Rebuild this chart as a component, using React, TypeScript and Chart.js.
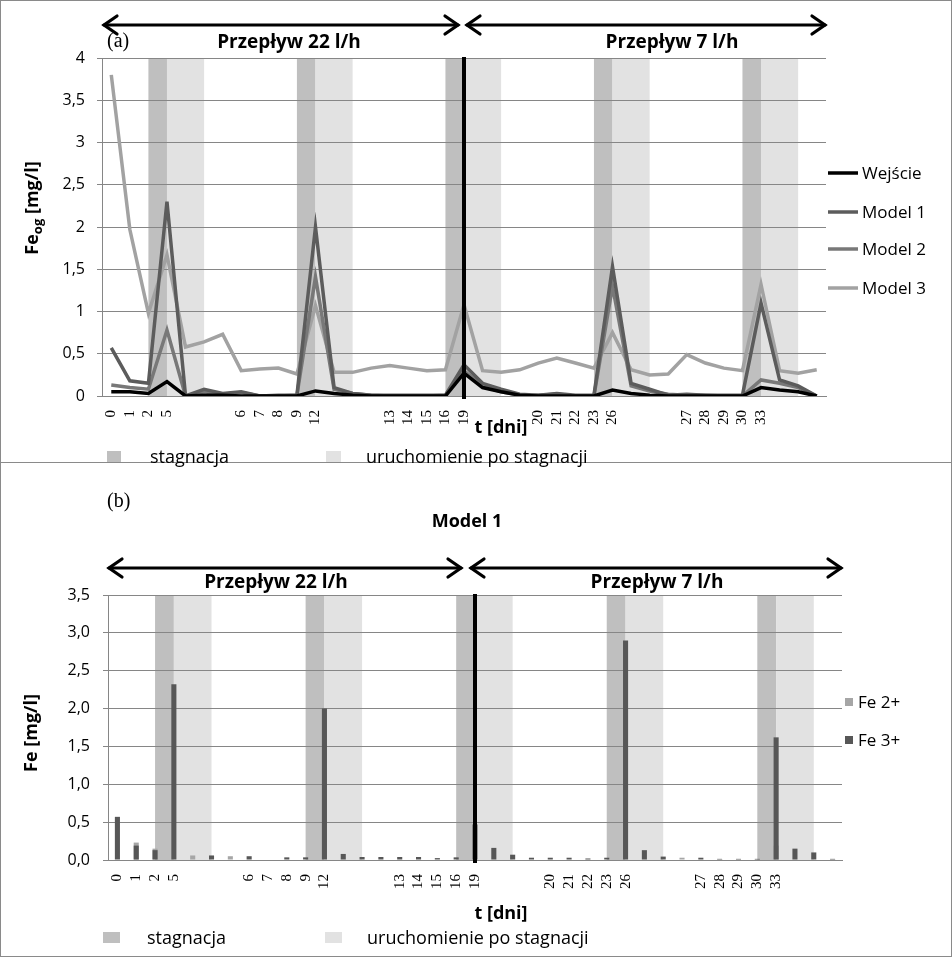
import React, { useEffect, useRef } from "react";
import { Chart, registerables } from "chart.js";

Chart.register(...registerables);

// ---------- data ----------
const dayLabels = [
  "0", "1", "2", "5", "", "", "", "6", "7", "8", "9", "12", "", "", "",
  "13", "14", "15", "16", "19", "", "", "", "20", "21", "22", "23", "26", "", "", "",
  "27", "28", "29", "30", "33", "", "", "",
];

const wejscie = [
  0.05, 0.05, 0.03, 0.17, 0.0, 0.01, 0.01, 0.0, 0.0, 0.0, 0.0, 0.06, 0.03, 0.01, 0.0,
  0.0, 0.0, 0.0, 0.0, 0.27, 0.1, 0.05, 0.01, 0.0, 0.0, 0.0, 0.0, 0.07, 0.03, 0.01, 0.0,
  0.0, 0.0, 0.0, 0.0, 0.1, 0.07, 0.05, 0.0,
];
const model1 = [
  0.57, 0.18, 0.15, 2.3, 0.0, 0.08, 0.03, 0.05, 0.0, 0.01, 0.01, 2.0, 0.1, 0.03, 0.01,
  0.01, 0.01, 0.01, 0.01, 0.37, 0.15, 0.08, 0.02, 0.01, 0.03, 0.01, 0.01, 1.53, 0.15, 0.08, 0.01,
  0.02, 0.01, 0.01, 0.01, 1.1, 0.19, 0.12, 0.0,
];
const model2 = [
  0.13, 0.1, 0.08, 0.78, 0.0, 0.05, 0.02, 0.04, 0.0, 0.0, 0.01, 1.41, 0.08, 0.03, 0.01,
  0.0, 0.0, 0.0, 0.01, 0.3, 0.12, 0.05, 0.01, 0.01, 0.02, 0.0, 0.0, 1.3, 0.12, 0.06, 0.02,
  0.01, 0.01, 0.0, 0.0, 0.19, 0.15, 0.1, 0.0,
];
const model3 = [
  3.8, 1.97, 0.98, 1.67, 0.58, 0.64, 0.73, 0.3, 0.32, 0.33, 0.26, 1.07, 0.28, 0.28, 0.33,
  0.36, 0.33, 0.3, 0.31, 1.08, 0.3, 0.28, 0.31, 0.39, 0.45, 0.39, 0.33, 0.75, 0.31, 0.25, 0.26,
  0.49, 0.39, 0.33, 0.3, 1.32, 0.3, 0.27, 0.31,
];

const fe2 = [
  0.0, 0.23, 0.15, 0.0, 0.06, 0.0, 0.05, 0.0, 0.0, 0.0, 0.0, 0.0, 0.0, 0.0, 0.0,
  0.0, 0.0, 0.0, 0.0, 0.0, 0.0, 0.0, 0.0, 0.0, 0.0, 0.0, 0.0, 0.0, 0.0, 0.0, 0.03,
  0.0, 0.0, 0.0, 0.0, 0.19, 0.0, 0.0, 0.0,
];
const fe3 = [
  0.57, 0.19, 0.13, 2.32, 0.0, 0.06, 0.0, 0.05, 0.0, 0.035, 0.035, 2.0, 0.08, 0.04, 0.04,
  0.04, 0.04, 0.025, 0.035, 0.47, 0.16, 0.07, 0.03, 0.03, 0.03, 0.02, 0.03, 2.9, 0.13, 0.045, 0.0,
  0.03, 0.015, 0.015, 0.015, 1.62, 0.15, 0.1, 0.015,
];

// category index ranges
const stagnationBands = [[2, 3], [10, 11], [18, 19], [26, 27], [34, 35]];
const restartBands = [[3, 5], [11, 13], [19, 21], [27, 29], [35, 37]];
const flowChangeIndex = 19;

const SANS = "'Open Sans', 'DejaVu Sans', sans-serif";
const SERIF = "'Liberation Serif', 'DejaVu Serif', serif";
const GRID = "#868686";
const DARK_BAND = "#bfbfbf";
const LIGHT_BAND = "#e2e2e2";

const bandsPlugin = {
  id: "bands",
  beforeDraw(chart: any) {
    const { ctx, chartArea, scales } = chart;
    const x = scales.x;
    ctx.save();
    ctx.fillStyle = DARK_BAND;
    for (const [a, b] of stagnationBands) {
      const p1 = x.getPixelForValue(a);
      const p2 = x.getPixelForValue(b);
      ctx.fillRect(p1, chartArea.top, p2 - p1, chartArea.bottom - chartArea.top);
    }
    ctx.fillStyle = LIGHT_BAND;
    for (const [a, b] of restartBands) {
      const p1 = x.getPixelForValue(a);
      const p2 = x.getPixelForValue(b);
      ctx.fillRect(p1, chartArea.top, p2 - p1, chartArea.bottom - chartArea.top);
    }
    ctx.restore();
  },
  afterDatasetsDraw(chart: any) {
    const { ctx, chartArea, scales } = chart;
    const px = scales.x.getPixelForValue(flowChangeIndex);
    ctx.save();
    ctx.strokeStyle = "#000";
    ctx.lineWidth = 4;
    ctx.beginPath();
    ctx.moveTo(px, chartArea.top - 1);
    ctx.lineTo(px, chartArea.bottom + 3);
    ctx.stroke();
    ctx.restore();
  },
};

function Txt(props: any) {
  const { x, y, children, size = 17, bold = false, family = SANS, anchor = "start", rotate = false } = props;
  const tx = anchor === "middle" ? "-50%" : "0";
  return (
    <div
      style={{
        position: "absolute",
        left: x,
        top: y,
        transform: `translate(${tx}, -50%)${rotate ? " rotate(-90deg)" : ""}`,
        fontFamily: family,
        fontSize: size,
        fontWeight: bold ? 700 : 400,
        whiteSpace: "nowrap",
        lineHeight: 1.2,
        color: "#000",
      }}
    >
      {children}
    </div>
  );
}

function Arrow({ x1, x2, y }: any) {
  return (
    <g stroke="#000" strokeWidth={3.2} fill="none" strokeLinecap="round" strokeLinejoin="miter">
      <line x1={x1 + 1} y1={y} x2={x2 - 1} y2={y} />
      <polyline points={`${x1 + 14},${y - 9} ${x1 + 1},${y} ${x1 + 14},${y + 9}`} />
      <polyline points={`${x2 - 14},${y - 9} ${x2 - 1},${y} ${x2 - 14},${y + 9}`} />
    </g>
  );
}

export default function App() {
  const refA = useRef<HTMLCanvasElement>(null);
  const refB = useRef<HTMLCanvasElement>(null);

  useEffect(() => {
    const xTickFont = { family: SERIF, size: 15 };

    const chartA = new Chart(refA.current as HTMLCanvasElement, {
      type: "line",
      data: {
        labels: dayLabels,
        datasets: [
          { label: "Wejście", data: wejscie, borderColor: "#000000", borderWidth: 3.5, pointRadius: 0, tension: 0 },
          { label: "Model 1", data: model1, borderColor: "#5c5c5c", borderWidth: 3.5, pointRadius: 0, tension: 0 },
          { label: "Model 2", data: model2, borderColor: "#787878", borderWidth: 3.5, pointRadius: 0, tension: 0 },
          { label: "Model 3", data: model3, borderColor: "#a2a2a2", borderWidth: 3.5, pointRadius: 0, tension: 0 },
        ],
      },
      options: {
        responsive: false,
        animation: false,
        layout: { padding: { top: 58, right: 126, bottom: 0, left: 0 } },
        plugins: { legend: { display: false }, tooltip: { enabled: false } },
        scales: {
          x: {
            offset: true,
            grid: { display: false, drawTicks: false },
            border: { display: true, color: GRID },
            ticks: { autoSkip: false, maxRotation: 90, minRotation: 90, padding: 14, color: "#000", font: xTickFont },
            afterFit: (s: any) => { s.height = 66; },
          },
          y: {
            min: 0,
            max: 4,
            grid: { color: GRID, tickLength: 5 },
            border: { display: true, color: GRID },
            ticks: {
              stepSize: 0.5,
              padding: 12,
              color: "#000",
              font: { family: SANS, size: 16 },
              callback: (v: any) => String(v).replace(".", ","),
            },
            afterFit: (s: any) => { s.width = 102; },
          },
        },
      } as any,
      plugins: [bandsPlugin],
    });

    const chartB = new Chart(refB.current as HTMLCanvasElement, {
      type: "bar",
      data: {
        labels: dayLabels,
        datasets: [
          { label: "Fe 3+", data: fe3, backgroundColor: "#575757", grouped: false, barPercentage: 0.27, categoryPercentage: 1 } as any,
          { label: "Fe 2+", data: fe2, backgroundColor: "#a6a6a6", grouped: false, barPercentage: 0.27, categoryPercentage: 1 } as any,
        ],
      },
      options: {
        responsive: false,
        animation: false,
        layout: { padding: { top: 133, right: 110, bottom: 0, left: 0 } },
        plugins: { legend: { display: false }, tooltip: { enabled: false } },
        scales: {
          x: {
            offset: true,
            grid: { display: false, drawTicks: false },
            border: { display: true, color: GRID },
            ticks: { autoSkip: false, maxRotation: 90, minRotation: 90, padding: 14, color: "#000", font: xTickFont },
            afterFit: (s: any) => { s.height = 97; },
          },
          y: {
            min: 0,
            max: 3.5,
            grid: { color: GRID, tickLength: 5 },
            border: { display: true, color: GRID },
            ticks: {
              stepSize: 0.5,
              padding: 13,
              color: "#000",
              font: { family: SANS, size: 16 },
              callback: (v: any) => Number(v).toFixed(1).replace(".", ","),
            },
            afterFit: (s: any) => { s.width = 108; },
          },
        },
      } as any,
      plugins: [bandsPlugin],
    });

    return () => {
      chartA.destroy();
      chartB.destroy();
    };
  }, []);

  return (
    <div style={{ position: "absolute", left: 0, top: 0, width: 952, height: 957, background: "#fff", overflow: "hidden" }}>
      <canvas ref={refA} width={952} height={462} style={{ position: "absolute", left: 0, top: 0 }} />
      <canvas ref={refB} width={952} height={495} style={{ position: "absolute", left: 0, top: 462 }} />

      <svg width={952} height={957} style={{ position: "absolute", left: 0, top: 0, pointerEvents: "none" }}>
        <rect x={0.5} y={0.5} width={951} height={462} fill="none" stroke="#8a8a8a" />
        <rect x={0.5} y={462.5} width={951} height={494} fill="none" stroke="#8a8a8a" />
        <Arrow x1={103} x2={459} y={25} />
        <Arrow x1={466} x2={826} y={25} />
        <Arrow x1={108} x2={462} y={568} />
        <Arrow x1={470} x2={842} y={568} />
        <line x1={828} x2={858} y1={173} y2={173} stroke="#000000" strokeWidth={3.5} />
        <line x1={828} x2={858} y1={212} y2={212} stroke="#5c5c5c" strokeWidth={3.5} />
        <line x1={828} x2={858} y1={249} y2={249} stroke="#787878" strokeWidth={3.5} />
        <line x1={828} x2={858} y1={288} y2={288} stroke="#a2a2a2" strokeWidth={3.5} />
        <rect x={107} y={451} width={14} height={11} fill={DARK_BAND} />
        <rect x={326} y={451} width={15} height={11} fill={LIGHT_BAND} />
        <rect x={103} y={932} width={17} height={11} fill={DARK_BAND} />
        <rect x={325} y={932} width={17} height={11} fill={LIGHT_BAND} />
        <rect x={845} y={698} width={8} height={8} fill="#a6a6a6" />
        <rect x={845} y={736} width={8} height={8} fill="#575757" />
      </svg>

      <Txt x={107} y={40} size={20} family={SERIF}>(a)</Txt>
      <Txt x={289} y={41} size={19} bold anchor="middle">Przepływ 22 l/h</Txt>
      <Txt x={672} y={41} size={19} bold anchor="middle">Przepływ 7 l/h</Txt>
      <Txt x={33} y={208} size={18} bold anchor="middle" rotate>
        Fe<sub style={{ fontSize: 13, verticalAlign: "-0.3em" }}>og</sub> [mg/l]
      </Txt>
      <Txt x={501} y={427} size={18} bold anchor="middle">t [dni]</Txt>
      <Txt x={150} y={457} size={18}>stagnacja</Txt>
      <Txt x={366} y={457} size={18}>uruchomienie po stagnacji</Txt>
      <Txt x={862} y={173} size={17}>Wejście</Txt>
      <Txt x={862} y={212} size={17}>Model 1</Txt>
      <Txt x={862} y={249} size={17}>Model 2</Txt>
      <Txt x={862} y={288} size={17}>Model 3</Txt>

      <Txt x={107} y={500} size={20} family={SERIF}>(b)</Txt>
      <Txt x={467} y={521} size={18} bold anchor="middle">Model 1</Txt>
      <Txt x={276} y={581} size={19} bold anchor="middle">Przepływ 22 l/h</Txt>
      <Txt x={657} y={581} size={19} bold anchor="middle">Przepływ 7 l/h</Txt>
      <Txt x={31} y={733} size={18} bold anchor="middle" rotate>Fe [mg/l]</Txt>
      <Txt x={501} y={913} size={18} bold anchor="middle">t [dni]</Txt>
      <Txt x={147} y={938} size={18}>stagnacja</Txt>
      <Txt x={367} y={938} size={18}>uruchomienie po stagnacji</Txt>
      <Txt x={858} y={702} size={17}>Fe 2+</Txt>
      <Txt x={858} y={740} size={17}>Fe 3+</Txt>
    </div>
  );
}
